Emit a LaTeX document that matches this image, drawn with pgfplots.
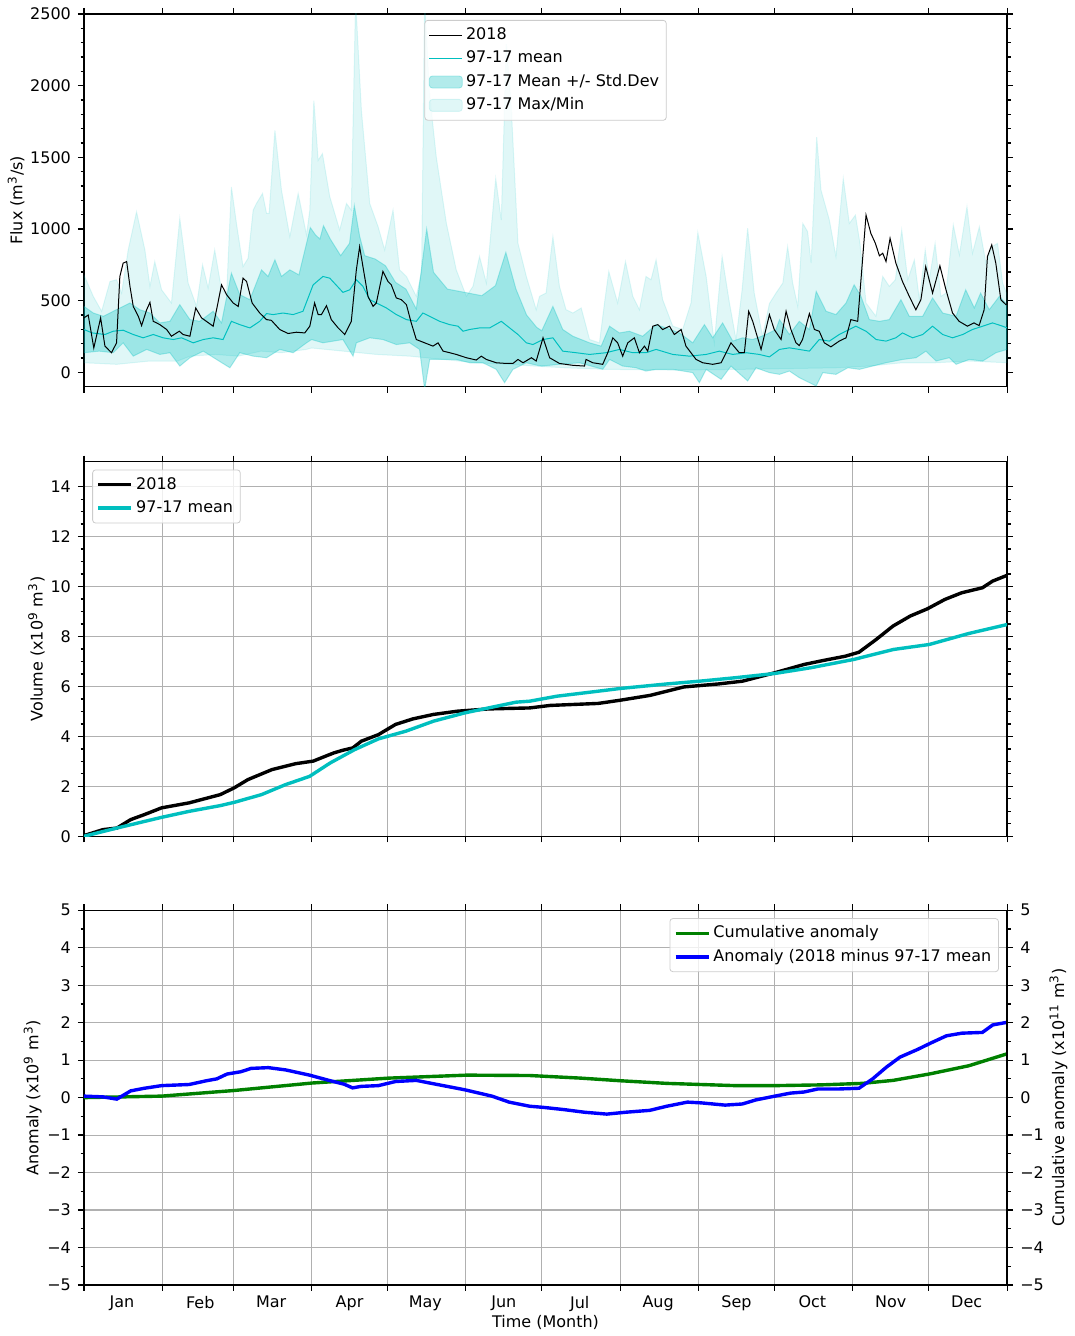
\documentclass[border=0pt]{standalone}
\usepackage{fontspec}
\setmainfont{DejaVu Sans}
\usepackage{pgfplots}
\pgfplotsset{compat=1.18}
\usepgfplotslibrary{fillbetween}

\definecolor{cmean}{RGB}{0,191,191}
\definecolor{gridgray}{RGB}{176,176,176}
\definecolor{mplgreen}{RGB}{0,128,0}
\definecolor{mplblue}{RGB}{0,0,255}
\definecolor{legframe}{RGB}{204,204,204}

\newcommand{\fs}{\fontsize{8}{9.6}\selectfont}

\pgfplotsset{
  panel/.style={
    scale only axis, width=462pt,
    xmin=0, xmax=365,
    xtick={0,31,59,90,120,151,181,212,243,273,304,334,365},
    xticklabels={},
    tick align=outside,
    major tick length=3pt, minor tick length=1.7pt,
    every tick/.style={black, line width=0.6pt},
    axis line style={line width=0.7pt},
    tick label style={font=\fs},
    label style={font=\fs},
    ylabel shift=-4pt,
    /pgf/number format/assume math mode=true,
    /pgf/number format/1000 sep={},
    scaled y ticks=false,
    legend style={font=\fs, draw=legframe, rounded corners=1.5pt, fill=white,
      fill opacity=0.8, text opacity=1, inner sep=2pt, row sep=0.8pt,
      nodes={inner sep=1.6pt, text height=6pt, text depth=1.7pt}},
    legend cell align=left,
    legend image code/.code={\draw[##1] (0pt,0pt) -- (16.5pt,0pt);},
    anchor=north west,
  },
  gridded/.style={grid=major, major grid style={gridgray, line width=0.55pt}},
  bandleg/.style={legend image code/.code={\draw[##1] (0pt,-3pt) rectangle (16.5pt,3pt);}},
}

\begin{document}
\begin{tikzpicture}
\path (0,0) rectangle (534pt,-668pt);

% ---------------- Daily flux ----------------
\begin{axis}[panel, at={(42pt,-7pt)}, height=186.5pt,
  ymin=-100, ymax=2500, ytick={0,500,1000,1500,2000,2500}, minor y tick num=4,
  ylabel={Flux (m\textsuperscript{3}/s)},
  legend style={at={(0.5,0.984)}, anchor=north}]

\addlegendimage{black, line width=0.5pt}
\addlegendentry{2018}
\addlegendimage{cmean, line width=0.5pt}
\addlegendentry{97-17 mean}
\addlegendimage{bandleg, fill=cmean, fill opacity=0.3, draw=cmean, draw opacity=0.3}
\addlegendentry{97-17 Mean +/- Std.Dev}
\addlegendimage{bandleg, fill=cmean, fill opacity=0.12, draw=cmean, draw opacity=0.12}
\addlegendentry{97-17 Max/Min}

% max / min envelope
\addplot[name path=qmax, draw=none, forget plot] coordinates {
(0,681) (3.7,530) (7.0,426) (10.3,634) (12.9,646) (14.9,553) (17.5,854) (20.8,1120)
(24.1,854) (26.1,600) (28.0,773) (30.7,576) (34.6,484) (37.9,1074) (41.2,623) (44.5,461)
(46.9,750) (49.1,588) (51.7,854) (54.4,576) (56.4,542) (58.3,1294) (60.3,1039) (62.9,738)
(64.9,796) (66.9,1132) (68.2,1178) (70.6,1248) (72.2,1109) (73.2,1109) (75.5,1688) (78.1,1271)
(81.4,947) (84.7,1248) (88.0,958) (89.3,1132) (90.9,1896) (92.6,1479) (94.3,1526) (97.2,1225)
(101.1,993) (103.8,1178) (105.7,1132) (107.4,2600) (109.7,1827) (113.0,1178) (116.3,1016)
(118.9,854) (122.2,1132) (124.8,715) (127.5,669) (131.4,530) (133.5,700) (134.7,2600)
(136.5,1965) (139.3,1502) (143.3,1039) (147.2,715) (151.2,530) (153.8,600) (156.4,808)
(159.1,623) (162.8,1352) (165.0,1063) (167.0,2289) (169.0,1827) (171.6,900) (174.9,669)
(178.8,437) (180.1,530) (182.7,553) (185.4,947) (188.0,600) (190.6,437) (193.3,414)
(196.6,449) (199.9,229) (203.8,206) (205.8,484) (207.5,704) (211.0,484) (214.1,773)
(217.0,530) (219.6,437) (222.2,669) (224.2,646) (226.2,785) (228.8,507) (232.8,322)
(236.7,299) (240.0,484) (242.7,975) (246.0,669) (249.2,206) (252.3,808) (255.2,484)
(257.8,229) (260.2,576) (262.4,1005) (265.0,553) (268.3,252) (271.0,480) (273.6,553)
(276.3,623) (278.2,877) (280.2,623) (282.2,461) (284.2,1039) (286.1,982) (287.5,762)
(289.7,1641) (291.4,1271) (294.7,1063) (297.3,808) (300.2,1352) (302.6,1039) (305.0,1097)
(306.8,900) (309.2,484) (313.1,391) (315.8,669) (318.4,600) (320.8,646) (323.3,993)
(325.7,646) (328.3,785) (330.3,507) (332.6,854) (334.2,646) (336.5,900) (338.8,530)
(340.8,553) (343.7,1028) (346.1,820) (349.1,1155) (351.3,831) (354.0,1016) (356.6,762)
(359.0,877) (361.2,900) (363.2,623) (365,542)};
\addplot[name path=qmin, draw=none, forget plot] coordinates {
(0,67) (13,56) (26,79) (37,79) (42,113) (52,125) (61,113) (70,148) (78,137) (88,160)
(90,170) (102.4,148) (115.6,125) (128.8,113) (142,90) (155.1,67) (168.3,56) (178,44)
(190,32) (206.4,21) (232.8,16) (259.1,21) (274.3,25) (297.3,32) (310.5,44) (323.6,67)
(336.8,67) (350,79) (365,67)};
\addplot[fill=cmean, fill opacity=0.12, draw=cmean, draw opacity=0.12, line width=0.5pt,
  forget plot] fill between[of=qmax and qmin];

% mean +/- one standard deviation
\addplot[name path=sup, draw=none, forget plot] coordinates {
(0,460) (3.7,414) (7.7,391) (11.6,426) (18.2,484) (22.1,437) (26.1,414) (30.0,345)
(34.0,356) (37.9,472) (41.9,368) (45.8,356) (51.1,426) (54.4,345) (58.3,692) (61.6,542)
(65.6,507) (70.2,715) (72.8,669) (75.5,785) (78.1,669) (81.4,715) (85,680) (88,900)
(89.5,1010) (91.5,960) (93.3,930) (94.7,1023) (97.4,930) (101.5,814) (105,900) (106.9,1163)
(109,950) (111,814) (115.1,791) (119.2,744) (123.2,628) (127.3,581) (131.4,442) (135.5,1000)
(138.2,698) (143.7,581) (150.5,558) (157.3,535) (162.7,605) (166.8,837) (170.8,581)
(175,400) (179,314) (181,290) (185.4,460) (189.3,299) (193.3,252) (199.9,206) (204.5,183)
(207.8,322) (211.7,275) (215.6,287) (220.9,252) (226.2,333) (230.1,310) (235.4,275)
(240.7,206) (245.3,333) (248.6,241) (252.5,345) (256.5,218) (260.4,241) (264.4,229)
(269.7,264) (273.6,299) (275,368) (278.9,264) (282.8,356) (286.8,299) (289.5,565)
(293.4,426) (297.3,403) (301.3,484) (304.5,611) (307.2,530) (310.5,368) (314.5,356)
(318.4,368) (323,507) (326.3,391) (331.6,391) (335.5,519) (339.5,414) (344.8,391)
(348.6,576) (352,449) (354.5,553) (357.9,437) (361.9,530) (365,472)};
\addplot[name path=slo, draw=none, forget plot] coordinates {
(0,137) (6,148) (11.6,137) (15.5,206) (19.5,113) (24.8,160) (30,125) (34,137) (37.9,44)
(41.9,102) (47.2,148) (52.4,90) (57.7,32) (61.6,137) (66.9,113) (72.2,102) (77.4,160)
(82.7,137) (88,206) (90,229) (94.5,206) (102.4,229) (106.4,113) (107.7,206) (113,241)
(118.2,229) (123.5,194) (128.8,206) (132.7,160) (134.7,-118) (136.7,90) (142,90) (147.2,90)
(152.5,67) (157.7,67) (163,21) (166.3,-72) (169.6,21) (174.9,67) (179,50) (181,44) (188,56)
(195.9,67) (205.1,21) (207.8,90) (213,44) (218.3,32) (222.2,9) (226.2,21) (232.8,21)
(240.7,-2) (243.3,-72) (246,21) (251.9,-49) (255.8,44) (262.4,-60) (265.7,32) (271,-2)
(275,-14) (278.9,9) (282.8,-37) (289.5,-95) (292.1,-2) (297.3,-14) (302,32) (306.6,21)
(311.8,44) (317.1,67) (323.7,90) (329,102) (332.9,148) (336.9,79) (342.1,102) (344.8,56)
(350,90) (355.3,79) (360.6,137) (365,160)};
\addplot[fill=cmean, fill opacity=0.3, draw=cmean, draw opacity=0.3, line width=0.5pt,
  forget plot] fill between[of=sup and slo];

% 1997-2017 mean
\addplot[cmean, line width=0.5pt, forget plot] coordinates {
(0,299) (3.3,275) (8.3,264) (11.6,287) (15.5,294) (19.5,264) (23.4,241) (27.4,264)
(31.3,241) (35.3,229) (38.6,241) (43.2,206) (47.2,229) (51.1,241) (55.0,229) (58.3,356)
(61.6,333) (65.6,310) (69.5,356) (72.2,410) (74.8,403) (78.7,414) (82.7,403) (86.6,426)
(90.6,610) (94.5,669) (97.2,657) (102.4,558) (105.1,576) (107.7,646) (110.3,600) (113,507)
(115.6,484) (119.6,449) (123.5,403) (127.5,368) (131.4,356) (134.0,414) (136.7,391)
(140.6,356) (144.6,333) (147.9,322) (149.9,287) (152.5,299) (156.4,310) (160.4,310)
(165,356) (168.3,310) (171.6,264) (174.9,206) (177.5,194) (181.5,229) (185.4,241)
(189.3,148) (194.6,137) (199.9,125) (206.4,137) (211.7,160) (217,137) (222.2,137)
(226.2,160) (232.8,125) (239.4,113) (246,125) (251.2,148) (256.5,125) (261.8,137)
(267,125) (271,108) (275,160) (278.9,171) (282.8,160) (286.8,148) (290.7,229) (294.7,218)
(298.6,264) (302.6,299) (305.2,322) (309.2,287) (313.2,229) (317.1,218) (321,241)
(323.6,275) (327.6,241) (331.6,264) (335.5,322) (339.5,264) (343.4,241) (347.4,264)
(351.3,299) (355.3,322) (359.2,345) (363.2,322) (365,310)};

% 2018
\addplot[black, line width=0.5pt, forget plot] coordinates {
(0,380) (1.7,400) (3.9,170) (6.6,380) (8.3,183) (10.9,137) (12.9,206) (14.2,669)
(15.5,762) (16.9,773) (18.2,600) (19.5,460) (21.5,391) (22.8,326) (24.8,437) (26.1,488)
(27.4,356) (28.7,345) (30.0,333) (32.7,299) (34.6,252) (37.7,287) (39.2,264) (41.9,252)
(44.2,449) (46.5,380) (48.4,356) (51.1,322) (52.7,460) (54.4,611) (56.4,542) (59.0,484)
(61.0,460) (62.9,657) (64.3,634) (66.5,484) (69.5,414) (72.2,368) (74.1,363) (77.4,299)
(80.7,271) (84.0,280) (87.3,275) (89.3,322) (91.2,484) (92.6,403) (93.9,403) (95.9,465)
(97.8,368) (100.5,310) (103.1,264) (105.7,356) (107.7,715) (109.0,877) (110.3,738)
(112.3,530) (114.3,460) (115.6,484) (118.2,704) (120.2,634) (121.5,611) (123.5,519)
(125.5,507) (127.5,472) (129.4,345) (131.4,229) (134.7,206) (138.0,183) (140.0,206)
(142.0,148) (144.6,137) (147.2,125) (151.2,102) (155.1,86) (157.1,113) (159.1,90)
(163.0,67) (167.0,62) (169.6,62) (171.6,90) (173.6,67) (176.9,102) (178.8,79) (181.5,241)
(184.1,102) (188.0,62) (193.3,49) (197.9,44) (198.5,90) (201.2,67) (205.1,56) (207.1,137)
(209.1,241) (211.0,206) (213.0,113) (215.0,206) (217.6,241) (219.6,137) (221.6,183)
(222.9,148) (224.9,322) (226.9,333) (228.8,299) (231.5,322) (233.4,264) (236.1,299)
(238.0,183) (242.0,90) (244.6,67) (248.6,56) (251.9,67) (253.9,137) (255.8,206) (259.1,137)
(261.1,137) (262.8,426) (264.4,356) (267.7,160) (271.0,403) (272.9,299) (275.6,229)
(277.6,426) (279.5,299) (281.5,206) (282.8,187) (284.1,229) (286.8,410) (288.8,299)
(290.7,287) (292.7,206) (295.3,178) (298.6,218) (301.3,241) (303.2,368) (305.9,356)
(307.2,646) (309.2,1097) (311.1,970) (312.9,900) (314.5,813) (315.8,831) (317.1,773)
(318.7,935) (321.0,762) (323.6,634) (326.3,530) (328.9,437) (330.9,507) (332.8,738)
(335.5,553) (338.4,743) (340.8,576) (343.4,414) (346.0,356) (349.3,322) (351.9,345)
(353.9,326) (355.9,437) (357.2,808) (358.9,889) (360.5,762) (362.5,507) (364.5,472) (365,480)};
\end{axis}

% ---------------- Cumulative volume ----------------
\begin{axis}[panel, gridded, at={(42pt,-231pt)}, height=187.5pt,
  ymin=0, ymax=15, ytick={0,2,4,6,8,10,12,14}, minor y tick num=3,
  ylabel={Volume (x10\textsuperscript{9} m\textsuperscript{3})},
  legend style={at={(0.009,0.979)}, anchor=north west}]
\addplot[black, line width=1.7pt] coordinates {
(0,0.03) (7.6,0.27) (13,0.33) (18.5,0.67) (23.9,0.87) (30.7,1.14) (41.6,1.34) (53.9,1.67)
(59.4,1.94) (64.8,2.27) (74.3,2.67) (83.8,2.91) (90.6,3.01) (98.8,3.34) (102.5,3.45)
(106.3,3.54) (109.7,3.81) (116.4,4.07) (123.2,4.48) (130,4.70) (138.2,4.88) (147.7,5.01)
(159.9,5.10) (176.2,5.14) (184.3,5.24) (203.3,5.32) (212.1,5.45) (223.7,5.64) (237.2,5.98)
(250.8,6.10) (260.3,6.21) (273.2,6.55) (284.7,6.88) (292.8,7.05) (301,7.21) (306.4,7.37)
(313.2,7.88) (319.9,8.42) (326.7,8.82) (333.5,9.11) (340.3,9.48) (347,9.75) (355.2,9.95)
(359.3,10.22) (365,10.45)};
\addlegendentry{2018}
\addplot[cmean, line width=1.7pt] coordinates {
(0,0) (13,0.33) (21.2,0.53) (30.7,0.76) (41.6,1.00) (53.9,1.23) (59.4,1.36) (70.2,1.67)
(79.7,2.07) (89.2,2.40) (97.4,2.94) (107,3.47) (116.4,3.90) (127.3,4.21) (138.2,4.61)
(150.5,4.94) (159.9,5.14) (170.8,5.37) (176.2,5.41) (187,5.61) (203.3,5.81) (212.1,5.92)
(230.4,6.10) (243.3,6.21) (257.6,6.35) (273.2,6.52) (287.4,6.75) (304.3,7.08) (320,7.48)
(334.2,7.68) (349.8,8.12) (365,8.48)};
\addlegendentry{97-17 mean}
\end{axis}

% ---------------- Anomalies ----------------
\begin{axis}[panel, gridded, at={(42pt,-455.5pt)}, height=187.5pt,
  ymin=-5, ymax=5, ytick={-5,-4,-3,-2,-1,0,1,2,3,4,5},
  yticklabels={−5,−4,−3,−2,−1,0,1,2,3,4,5}, minor y tick num=1, ytick pos=left,
  extra x ticks={15,46,74,105,135,166,196,227,258,288,319,349},
  extra x tick labels={Jan,Feb,Mar,Apr,May,Jun,Jul,Aug,Sep,Oct,Nov,Dec},
  extra x tick style={major tick length=0pt, grid=none, xtick pos=bottom,
    tick label style={font=\fs, yshift=-2pt}},
  xlabel={Time (Month)},
  xlabel style={yshift=8pt},
  ylabel={Anomaly (x10\textsuperscript{9} m\textsuperscript{3})},
  legend style={at={(0.991,0.979)}, anchor=north east}]
\addplot[mplgreen, line width=1.7pt] coordinates {
(0,0) (30.7,0.04) (59.4,0.19) (90.3,0.39) (120.4,0.52) (151.3,0.60) (176.2,0.59)
(196.5,0.52) (212.1,0.45) (230.4,0.38) (244,0.35) (257.6,0.32) (273.2,0.32) (291.5,0.34)
(307.7,0.38) (319.9,0.46) (334.2,0.63) (349.8,0.85) (365,1.17)};
\addlegendentry{Cumulative anomaly}
\addplot[mplblue, line width=1.7pt] coordinates {
(0,0.04) (7.5,0.02) (13,-0.04) (18.5,0.18) (23.9,0.25) (30.7,0.32) (41.6,0.35) (48.4,0.45)
(52.5,0.50) (56.6,0.63) (62,0.69) (66.1,0.78) (72.9,0.80) (79.7,0.74) (89.2,0.60)
(97.4,0.45) (102.8,0.36) (106.2,0.26) (109.6,0.30) (116.4,0.32) (123.2,0.43) (131.4,0.46)
(138.2,0.37) (150.5,0.21) (161.3,0.04) (168.1,-0.12) (176.2,-0.23) (181.6,-0.26)
(189.8,-0.32) (197.9,-0.39) (206.7,-0.44) (214.2,-0.39) (223.7,-0.34) (230.4,-0.23)
(238.6,-0.12) (244,-0.14) (253.5,-0.20) (260.3,-0.17) (265.7,-0.06) (273.2,0.04)
(279.3,0.12) (284.7,0.15) (290.1,0.23) (298.2,0.23) (306.4,0.25) (311.8,0.50) (317.2,0.81)
(322.6,1.08) (329.4,1.28) (334.9,1.46) (341,1.65) (347.1,1.72) (355.2,1.74) (359.3,1.94)
(365,2.01)};
\addlegendentry{Anomaly (2018 minus 97-17 mean}
\end{axis}

\begin{axis}[panel, at={(42pt,-455.5pt)}, height=187.5pt,
  axis y line*=right, axis x line=none,
  ymin=-5, ymax=5, ytick={-5,-4,-3,-2,-1,0,1,2,3,4,5},
  yticklabels={−5,−4,−3,−2,−1,0,1,2,3,4,5}, minor y tick num=1,
  ylabel={Cumulative anomaly (x10\textsuperscript{11} m\textsuperscript{3})}]
\end{axis}
\end{tikzpicture}
\end{document}
